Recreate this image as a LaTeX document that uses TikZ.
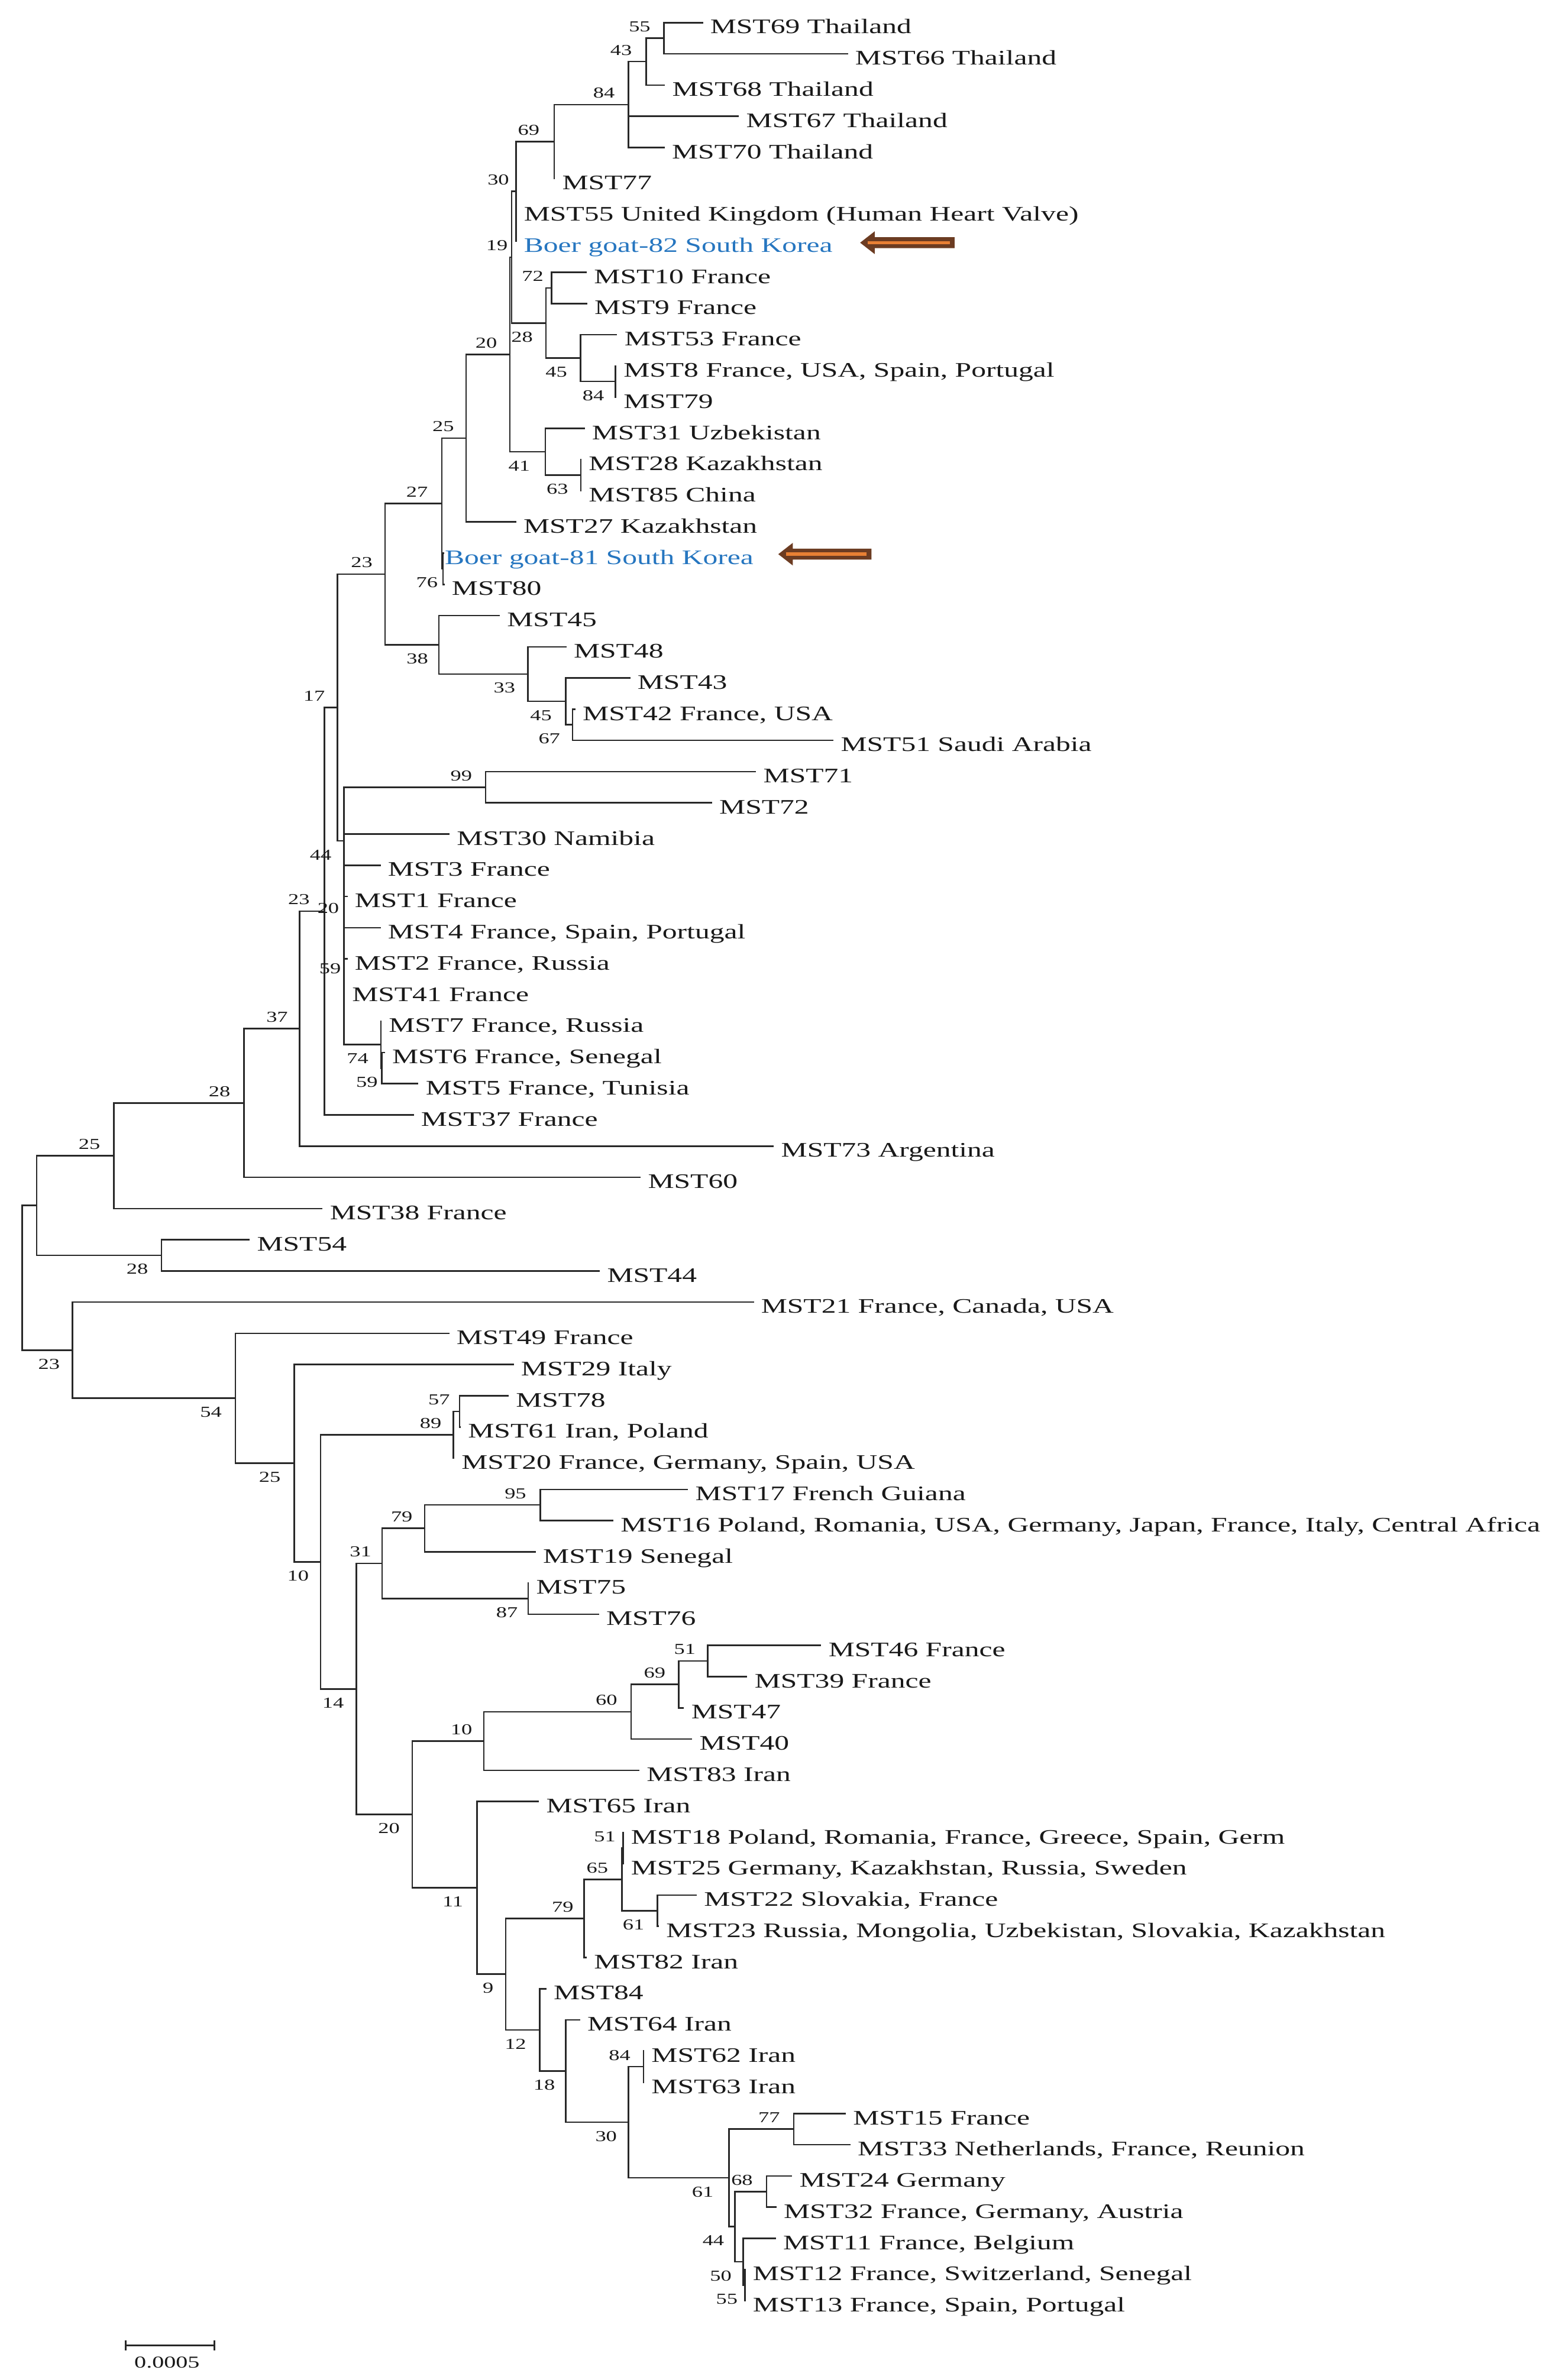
\documentclass[tikz,border=0pt]{standalone}
\usepackage{fontspec}
\setmainfont{Liberation Serif}[FakeStretch=1.42]
\usetikzlibrary{calc}
\definecolor{boer}{RGB}{38,118,192}
\definecolor{arrbrown}{RGB}{108,60,34}
\definecolor{arrorange}{RGB}{232,128,52}
\definecolor{brline}{RGB}{40,40,40}
\pgfmathdeclarefunction{lf}{1}{\pgfmathparse{14.9+20.56*(#1-1)}}
\tikzset{
  br/.style={line width=1pt, draw=brline, line cap=rect},
  leaflbl/.style={anchor=base west, inner sep=0pt, outer sep=0pt, font=\fontsize{13.6}{16}\selectfont, text=black!90, xshift=#1pt, yshift=-7.3pt},
  leaflbl/.default=5.3,
  bsa/.style={anchor=east, inner sep=0pt, font=\fontsize{10}{12}\selectfont, text=black!90, xshift=-#1pt, yshift=7.6pt},
  bsb/.style={anchor=east, inner sep=0pt, font=\fontsize{10}{12}\selectfont, text=black!90, xshift=-#1pt, yshift=-9.2pt},
}
\begin{document}
\begin{tikzpicture}[x=1pt,y=-1pt]
\useasboundingbox (0,0) rectangle (1024,1568);

% ---------- internal nodes ----------
\coordinate (n55) at (437.3,{lf(1.5)});
\coordinate (n43) at (425.6,{lf(2.25)});
\coordinate (n84) at (413.8,{lf(3.625)});
\coordinate (n69) at (365.0,{lf(4.8125)});
\coordinate (n30) at (339.8,{lf(6.40625)});
\coordinate (n72) at (363.3,{lf(9.5)});
\coordinate (n84b) at (405.4,{lf(12.5)});
\coordinate (n45) at (382.4,{lf(11.75)});
\coordinate (n28) at (359.5,{lf(10.625)});
\coordinate (nU) at (337.0,{lf(8.515625)});
\coordinate (n63) at (382.5,{lf(15.5)});
\coordinate (n41) at (359.2,{lf(14.75)});
\coordinate (n20) at (335.8,{lf(11.6328)});
\coordinate (n25) at (306.9,{lf(14.3164)});
\coordinate (n76) at (291.8,{lf(18.5)});
\coordinate (n27) at (291.0,{lf(16.4082)});
\coordinate (n67) at (377.1,{lf(23.5)});
\coordinate (n45b) at (372.6,{lf(22.75)});
\coordinate (n33) at (347.7,{lf(21.875)});
\coordinate (n38) at (289.0,{lf(20.9375)});
\coordinate (n23a) at (253.6,{lf(18.6729)});
\coordinate (n99) at (319.8,{lf(25.5)});
\coordinate (n59b) at (251.5,{lf(34.5)});
\coordinate (n74) at (250.8,{lf(33.75)});
\coordinate (n59) at (226.6,{lf(30.875)});
\coordinate (n20c) at (226.6,{lf(28.9375)});
\coordinate (n44) at (226.6,{lf(27.2188)});
\coordinate (n17) at (222.2,{lf(22.9458)});
\coordinate (n23b) at (213.6,{lf(29.4729)});
\coordinate (n37) at (197.4,{lf(33.2365)});
\coordinate (n28u) at (160.7,{lf(35.6182)});
\coordinate (n25b) at (75.1,{lf(37.3091)});
\coordinate (n28b) at (106.3,{lf(40.5)});
\coordinate (nRu) at (24.2,{lf(38.9046)});
\coordinate (n57) at (302.7,{lf(45.5)});
\coordinate (n89) at (298.7,{lf(46.25)});
\coordinate (n95) at (355.8,{lf(48.5)});
\coordinate (n79) at (279.7,{lf(49.25)});
\coordinate (n87) at (347.9,{lf(51.5)});
\coordinate (n31) at (251.7,{lf(50.375)});
\coordinate (n51) at (466.0,{lf(53.5)});
\coordinate (n69b) at (447.0,{lf(54.25)});
\coordinate (n60) at (415.7,{lf(55.125)});
\coordinate (n10b) at (318.6,{lf(56.0625)});
\coordinate (n51b) at (410.3,{lf(59.5)});
\coordinate (n61) at (432.9,{lf(61.5)});
\coordinate (n65) at (409.7,{lf(60.5)});
\coordinate (n79b) at (384.8,{lf(61.75)});
\coordinate (n84c) at (423.8,{lf(66.5)});
\coordinate (n77) at (522.8,{lf(68.5)});
\coordinate (n68) at (504.9,{lf(70.5)});
\coordinate (n55b) at (490.6,{lf(73.5)});
\coordinate (n50) at (489.4,{lf(72.75)});
\coordinate (n44b) at (484.0,{lf(71.625)});
\coordinate (n61b) at (480.1,{lf(70.0625)});
\coordinate (n30b) at (413.8,{lf(68.28125)});
\coordinate (n18) at (372.7,{lf(66.640625)});
\coordinate (n12) at (355.4,{lf(65.3203)});
\coordinate (n9) at (333.1,{lf(63.5352)});
\coordinate (n11) at (314.2,{lf(60.7676)});
\coordinate (n20d) at (271.5,{lf(58.4150)});
\coordinate (n14) at (234.7,{lf(54.3950)});
\coordinate (n10a) at (211.2,{lf(50.3225)});
\coordinate (n25c) at (193.9,{lf(47.1613)});
\coordinate (n54) at (155.1,{lf(45.0806)});
\coordinate (n23c) at (47.7,{lf(43.5403)});
\coordinate (nR) at (14.5,{lf(41.2225)});

% ---------- leaves ----------
\foreach \i/\x/\t in {
 1/462.5/{MST69 Thailand}, 2/558/{MST66 Thailand}, 3/437.5/{MST68 Thailand},
 4/486.2/{MST67 Thailand}, 5/437.3/{MST70 Thailand}, 6/365.0/{MST77},
 7/339.8/{MST55 United Kingdom (Human Heart Valve)},
 9/386/{MST10 France}, 10/386.3/{MST9 France}, 11/406/{MST53 France},
 12/405.4/{MST8 France, USA, Spain, Portugal}, 13/405.4/{MST79},
 14/384.6/{MST31 Uzbekistan}, 15/382.5/{MST28 Kazakhstan}, 16/382.5/{MST85 China},
 17/339.5/{MST27 Kazakhstan}, 19/292.3/{MST80},
 20/328.7/{MST45}, 21/372.6/{MST48}, 22/414.6/{MST43}, 23/378.5/{MST42 France, USA},
 24/548.5/{MST51 Saudi Arabia}, 25/497.5/{MST71}, 26/468.5/{MST72},
 27/295.6/{MST30 Namibia}, 28/250.2/{MST3 France}, 29/228.4/{MST1 France},
 30/250.2/{MST4 France, Spain, Portugal}, 31/228.4/{MST2 France, Russia},
 32/226.6/{MST41 France}, 33/250.8/{MST7 France, Russia}, 34/253/{MST6 France, Senegal},
 35/275.1/{MST5 France, Tunisia}, 36/272/{MST37 France}, 37/509.2/{MST73 Argentina},
 38/421.5/{MST60}, 39/212/{MST38 France}, 40/164/{MST54}, 41/394.6/{MST44},
 42/496/{MST21 France, Canada, USA}, 43/295.4/{MST49 France}, 44/337.9/{MST29 Italy},
 45/334.5/{MST78}, 46/303/{MST61 Iran, Poland}, 47/298.7/{MST20 France, Germany, Spain, USA},
 48/452.7/{MST17 French Guiana},
 49/403.5/{MST16 Poland, Romania, USA, Germany, Japan, France, Italy, Central Africa},
 50/352.4/{MST19 Senegal}, 51/347.9/{MST75}, 52/394/{MST76},
 53/540.4/{MST46 France}, 54/491.7/{MST39 France}, 55/450/{MST47}, 56/455.4/{MST40},
 57/420.6/{MST83 Iran}, 58/354.5/{MST65 Iran},
 59/410.3/{MST18 Poland, Romania, France, Greece, Spain, Germ},
 60/410.3/{MST25 Germany, Kazakhstan, Russia, Sweden}, 61/458.4/{MST22 Slovakia, France},
 62/433.5/{MST23 Russia, Mongolia, Uzbekistan, Slovakia, Kazakhstan},
 63/386/{MST82 Iran}, 64/359.4/{MST84}, 65/381.6/{MST64 Iran}, 66/423.8/{MST62 Iran},
 67/423.8/{MST63 Iran}, 68/556.6/{MST15 France}, 69/559.6/{MST33 Netherlands, France, Reunion},
 70/521.2/{MST24 Germany}, 71/510.9/{MST32 France, Germany, Austria},
 72/510.5/{MST11 France, Belgium}, 73/490.6/{MST12 France, Switzerland, Senegal},
 74/490.6/{MST13 France, Spain, Portugal}}
{
  \coordinate (t\i) at (\x,{lf(\i)});
  \node[leaflbl] (l\i) at (t\i) {\t};
}
\coordinate (t8) at (339.8,{lf(8)});
\node[leaflbl, text=boer] (l8) at (t8) {Boer goat-82 South Korea};
\coordinate (t18) at (292.0,{lf(18)});
\node[leaflbl=1.0, text=boer] (l18) at (t18) {Boer goat-81 South Korea};

% ---------- branches ----------
\foreach \p/\c in {
 n55/t1, n55/t2, n43/n55, n43/t3, n84/n43, n84/t4, n84/t5, n69/n84, n69/t6,
 n30/n69, n30/t7, n30/t8, nU/n30, nU/n28, n28/n72, n28/n45, n72/t9, n72/t10,
 n45/t11, n45/n84b, n84b/t12, n84b/t13, n20/nU, n20/n41, n41/t14, n41/n63,
 n63/t15, n63/t16, n25/n20, n25/t17, n27/n25, n27/n76, n76/t18, n76/t19,
 n23a/n27, n23a/n38, n38/t20, n38/n33, n33/t21, n33/n45b, n45b/t22, n45b/n67,
 n67/t23, n67/t24, n17/n23a, n17/n44, n44/n99, n44/n20c, n99/t25, n99/t26,
 n20c/t27, n20c/n59, n59/t28, n59/t29, n59/t30, n59/t31, n59/t32, n59/n74,
 n74/t33, n74/n59b, n59b/t34, n59b/t35, n23b/n17, n23b/t36, n37/n23b, n37/t37,
 n28u/n37, n28u/t38, n25b/n28u, n25b/t39, n28b/t40, n28b/t41, nRu/n25b, nRu/n28b,
 nR/nRu, nR/n23c, n23c/t42, n23c/n54, n54/t43, n54/n25c, n25c/t44, n25c/n10a,
 n10a/n89, n10a/n14, n89/n57, n89/t47, n57/t45, n57/t46, n14/n31, n14/n20d,
 n31/n79, n31/n87, n79/n95, n79/t50, n95/t48, n95/t49, n87/t51, n87/t52,
 n20d/n10b, n20d/n11, n10b/n60, n10b/t57, n60/n69b, n60/t56, n69b/n51, n69b/t55,
 n51/t53, n51/t54, n11/t58, n11/n9, n9/n79b, n9/n12, n79b/n65, n79b/t63,
 n65/n51b, n65/n61, n51b/t59, n51b/t60, n61/t61, n61/t62, n12/t64, n12/n18,
 n18/t65, n18/n30b, n30b/n84c, n30b/n61b, n84c/t66, n84c/t67, n61b/n77, n61b/n44b,
 n77/t68, n77/t69, n44b/n68, n44b/n50, n68/t70, n68/t71, n50/t72, n50/n55b,
 n55b/t73, n55b/t74}
{ \draw[br] (\p) |- (\c); }

% ---------- bootstrap values ----------
\foreach \n/\v/\g in {
 n55/55/8.7, n43/43/9.2, n84/84/8.7, n69/69/9.5, n30/30/4.3, nU/19/2.4, n72/72/5.2,
 n20/20/8.2, n25/25/7.7, n27/27/9, n23a/23/8, n17/17/8, n99/99/8.7, n23b/23/9.4,
 n37/37/7.6, n28u/28/8.8, n25b/25/8.9, n57/57/6.2, n89/89/7.8, n95/95/9, n79/79/7.8,
 n31/31/6.9, n10b/10/7.4, n60/60/9, n69b/69/8.5, n51/51/7.6, n51b/51/4.6, n65/65/9,
 n79b/79/6.9, n84c/84/8.4, n77/77/8.9, n68/68/8.9}
{ \node[bsa=\g] (ba\n) at (\n) {\v}; }
\foreach \n/\v/\g in {
 n28/28/8.4, n45/45/8.7, n84b/84/7.3, n41/41/9.9, n63/63/8.1, n76/76/3.3, n38/38/6.8,
 n33/33/8.2, n45b/45/9, n67/67/8, n44/44/8.1, n20c/20/3.1, n59/59/1.9, n74/74/8,
 n59b/59/2.5, n28b/28/8.6, n23c/23/8.1, n54/54/8.9, n25c/25/8.9, n10a/10/7.6,
 n87/87/6.7, n14/14/8, n20d/20/8, n11/11/8.9, n61/61/8.3, n9/9/7.9, n12/12/8.6,
 n18/18/7, n30b/30/7.3, n61b/61/10, n44b/44/6.9, n50/50/7.4, n55b/55/4.6}
{ \node[bsb=\g] (bb\n) at (\n) {\v}; }

% ---------- arrows ----------
\foreach \ax/\ay/\al in {566.5/159.9/62.2, 512.6/365.1/61.4}
{
  \fill[arrbrown] (\ax,\ay) -- ++(9.6,-7.5) -- ++(0,3.9) -- ++({\al-9.6},0) -- ++(0,7.2)
     -- ++({-(\al-9.6)},0) -- ++(0,3.9) -- cycle;
  \draw[arrorange, line width=2.2pt] ({\ax+5},\ay) -- ({\ax+\al-3.2},\ay);
}

% ---------- scale bar ----------
\coordinate (sbL) at (82.7,1545.2);
\coordinate (sbR) at (141.3,1545.2);
\draw[br, line cap=butt] (sbL) -- (sbR);
\draw[br, line cap=butt] ($(sbL)+(0,-3.4)$) -- ($(sbL)+(0,3.4)$);
\draw[br, line cap=butt] ($(sbR)+(0,-3.4)$) -- ($(sbR)+(0,3.4)$);
\node[inner sep=0pt, font=\fontsize{11}{13}\selectfont, text=black!90] (sbt) at (110,1556.3) {0.0005};
\end{tikzpicture}
\end{document}
